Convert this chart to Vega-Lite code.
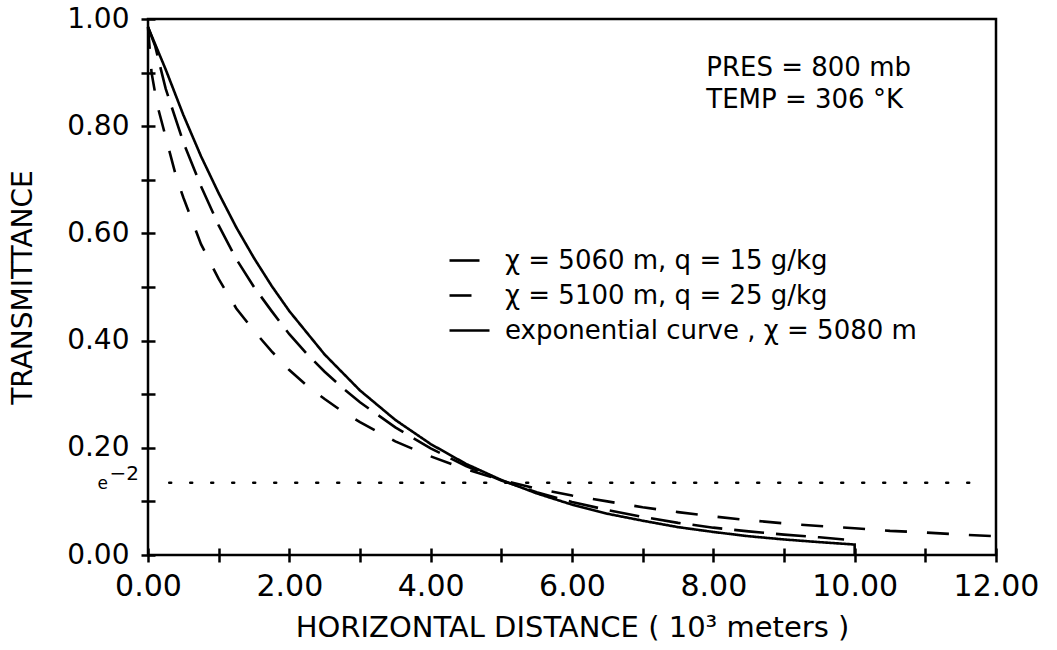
{
  "$schema": "https://vega.github.io/schema/vega-lite/v6.json",
  "width": 848,
  "height": 536,
  "autosize": {"type": "none"},
  "padding": {"left": 148, "top": 19, "right": 61, "bottom": 95},
  "background": "white",
  "config": {
    "view": {"stroke": "black", "strokeWidth": 2.5},
    "font": "DejaVu Sans",
    "axis": {"labelColor": "black", "titleColor": "black", "tickColor": "black", "labelFont": "DejaVu Sans", "titleFont": "DejaVu Sans", "titleFontWeight": "normal", "grid": false}
  },
  "datasets": {
    "curves": [
      {"s": "χ = 5060 m, q = 15 g/kg", "x": 0, "t": 0.985},
      {"s": "χ = 5060 m, q = 15 g/kg", "x": 0.1, "t": 0.95},
      {"s": "χ = 5060 m, q = 15 g/kg", "x": 0.25, "t": 0.87},
      {"s": "χ = 5060 m, q = 15 g/kg", "x": 0.5, "t": 0.77},
      {"s": "χ = 5060 m, q = 15 g/kg", "x": 0.75, "t": 0.688},
      {"s": "χ = 5060 m, q = 15 g/kg", "x": 1.0, "t": 0.615},
      {"s": "χ = 5060 m, q = 15 g/kg", "x": 1.25, "t": 0.552},
      {"s": "χ = 5060 m, q = 15 g/kg", "x": 1.5, "t": 0.5},
      {"s": "χ = 5060 m, q = 15 g/kg", "x": 1.75, "t": 0.455},
      {"s": "χ = 5060 m, q = 15 g/kg", "x": 2.0, "t": 0.412},
      {"s": "χ = 5060 m, q = 15 g/kg", "x": 2.25, "t": 0.375},
      {"s": "χ = 5060 m, q = 15 g/kg", "x": 2.5, "t": 0.342},
      {"s": "χ = 5060 m, q = 15 g/kg", "x": 2.75, "t": 0.312},
      {"s": "χ = 5060 m, q = 15 g/kg", "x": 3.0, "t": 0.285},
      {"s": "χ = 5060 m, q = 15 g/kg", "x": 3.5, "t": 0.238},
      {"s": "χ = 5060 m, q = 15 g/kg", "x": 4.0, "t": 0.199},
      {"s": "χ = 5060 m, q = 15 g/kg", "x": 4.5, "t": 0.166},
      {"s": "χ = 5060 m, q = 15 g/kg", "x": 5.0, "t": 0.139},
      {"s": "χ = 5060 m, q = 15 g/kg", "x": 5.5, "t": 0.117},
      {"s": "χ = 5060 m, q = 15 g/kg", "x": 6.0, "t": 0.099},
      {"s": "χ = 5060 m, q = 15 g/kg", "x": 6.5, "t": 0.084},
      {"s": "χ = 5060 m, q = 15 g/kg", "x": 7.0, "t": 0.071},
      {"s": "χ = 5060 m, q = 15 g/kg", "x": 7.5, "t": 0.06},
      {"s": "χ = 5060 m, q = 15 g/kg", "x": 8.0, "t": 0.051},
      {"s": "χ = 5060 m, q = 15 g/kg", "x": 8.5, "t": 0.044},
      {"s": "χ = 5060 m, q = 15 g/kg", "x": 9.0, "t": 0.038},
      {"s": "χ = 5060 m, q = 15 g/kg", "x": 9.5, "t": 0.033},
      {"s": "χ = 5060 m, q = 15 g/kg", "x": 9.85, "t": 0.029},

      {"s": "χ = 5100 m, q = 25 g/kg", "x": 0, "t": 0.985},
      {"s": "χ = 5100 m, q = 25 g/kg", "x": 0.05, "t": 0.9},
      {"s": "χ = 5100 m, q = 25 g/kg", "x": 0.13, "t": 0.84},
      {"s": "χ = 5100 m, q = 25 g/kg", "x": 0.25, "t": 0.78},
      {"s": "χ = 5100 m, q = 25 g/kg", "x": 0.4, "t": 0.705},
      {"s": "χ = 5100 m, q = 25 g/kg", "x": 0.5, "t": 0.667},
      {"s": "χ = 5100 m, q = 25 g/kg", "x": 0.75, "t": 0.58},
      {"s": "χ = 5100 m, q = 25 g/kg", "x": 1.0, "t": 0.515},
      {"s": "χ = 5100 m, q = 25 g/kg", "x": 1.25, "t": 0.46},
      {"s": "χ = 5100 m, q = 25 g/kg", "x": 1.5, "t": 0.418},
      {"s": "χ = 5100 m, q = 25 g/kg", "x": 1.75, "t": 0.38},
      {"s": "χ = 5100 m, q = 25 g/kg", "x": 2.0, "t": 0.345},
      {"s": "χ = 5100 m, q = 25 g/kg", "x": 2.25, "t": 0.316},
      {"s": "χ = 5100 m, q = 25 g/kg", "x": 2.5, "t": 0.291},
      {"s": "χ = 5100 m, q = 25 g/kg", "x": 2.75, "t": 0.268},
      {"s": "χ = 5100 m, q = 25 g/kg", "x": 3.0, "t": 0.248},
      {"s": "χ = 5100 m, q = 25 g/kg", "x": 3.5, "t": 0.212},
      {"s": "χ = 5100 m, q = 25 g/kg", "x": 4.0, "t": 0.184},
      {"s": "χ = 5100 m, q = 25 g/kg", "x": 4.5, "t": 0.16},
      {"s": "χ = 5100 m, q = 25 g/kg", "x": 5.0, "t": 0.14},
      {"s": "χ = 5100 m, q = 25 g/kg", "x": 5.5, "t": 0.124},
      {"s": "χ = 5100 m, q = 25 g/kg", "x": 6.0, "t": 0.111},
      {"s": "χ = 5100 m, q = 25 g/kg", "x": 6.5, "t": 0.1},
      {"s": "χ = 5100 m, q = 25 g/kg", "x": 7.0, "t": 0.089},
      {"s": "χ = 5100 m, q = 25 g/kg", "x": 7.5, "t": 0.08},
      {"s": "χ = 5100 m, q = 25 g/kg", "x": 8.0, "t": 0.072},
      {"s": "χ = 5100 m, q = 25 g/kg", "x": 8.5, "t": 0.065},
      {"s": "χ = 5100 m, q = 25 g/kg", "x": 9.0, "t": 0.059},
      {"s": "χ = 5100 m, q = 25 g/kg", "x": 9.5, "t": 0.054},
      {"s": "χ = 5100 m, q = 25 g/kg", "x": 10.0, "t": 0.05},
      {"s": "χ = 5100 m, q = 25 g/kg", "x": 10.5, "t": 0.045},
      {"s": "χ = 5100 m, q = 25 g/kg", "x": 11.0, "t": 0.042},
      {"s": "χ = 5100 m, q = 25 g/kg", "x": 11.5, "t": 0.038},
      {"s": "χ = 5100 m, q = 25 g/kg", "x": 12.0, "t": 0.035},

      {"s": "exponential curve , χ = 5080 m", "x": 0, "t": 0.985},
      {"s": "exponential curve , χ = 5080 m", "x": 0.25, "t": 0.906},
      {"s": "exponential curve , χ = 5080 m", "x": 0.5, "t": 0.821},
      {"s": "exponential curve , χ = 5080 m", "x": 0.75, "t": 0.744},
      {"s": "exponential curve , χ = 5080 m", "x": 1.0, "t": 0.675},
      {"s": "exponential curve , χ = 5080 m", "x": 1.25, "t": 0.611},
      {"s": "exponential curve , χ = 5080 m", "x": 1.5, "t": 0.554},
      {"s": "exponential curve , χ = 5080 m", "x": 1.75, "t": 0.502},
      {"s": "exponential curve , χ = 5080 m", "x": 2.0, "t": 0.455},
      {"s": "exponential curve , χ = 5080 m", "x": 2.5, "t": 0.374},
      {"s": "exponential curve , χ = 5080 m", "x": 3.0, "t": 0.307},
      {"s": "exponential curve , χ = 5080 m", "x": 3.5, "t": 0.252},
      {"s": "exponential curve , χ = 5080 m", "x": 4.0, "t": 0.207},
      {"s": "exponential curve , χ = 5080 m", "x": 4.5, "t": 0.17},
      {"s": "exponential curve , χ = 5080 m", "x": 5.0, "t": 0.14},
      {"s": "exponential curve , χ = 5080 m", "x": 5.5, "t": 0.115},
      {"s": "exponential curve , χ = 5080 m", "x": 6.0, "t": 0.094},
      {"s": "exponential curve , χ = 5080 m", "x": 6.5, "t": 0.077},
      {"s": "exponential curve , χ = 5080 m", "x": 7.0, "t": 0.064},
      {"s": "exponential curve , χ = 5080 m", "x": 7.5, "t": 0.052},
      {"s": "exponential curve , χ = 5080 m", "x": 8.0, "t": 0.043},
      {"s": "exponential curve , χ = 5080 m", "x": 8.5, "t": 0.035},
      {"s": "exponential curve , χ = 5080 m", "x": 9.0, "t": 0.029},
      {"s": "exponential curve , χ = 5080 m", "x": 9.5, "t": 0.024},
      {"s": "exponential curve , χ = 5080 m", "x": 10.0, "t": 0.0195},
      {"s": "exponential curve , χ = 5080 m", "x": 10.0, "t": 0.0}
    ],
    "refline": [{"x": 0.3, "x2": 11.7, "t": 0.135}],
    "notes": [
      {"label": "PRES = 800 mb", "x": 7.9, "t": 0.908},
      {"label": "TEMP = 306 °K", "x": 7.9, "t": 0.849}
    ]
  },
  "layer": [
    {
      "data": {"name": "curves"},
      "mark": {"type": "line", "color": "black", "strokeWidth": 2.6, "clip": false},
      "encoding": {
        "x": {
          "field": "x", "type": "quantitative",
          "scale": {"domain": [0, 12], "nice": false, "zero": false},
          "axis": {
            "values": [0, 1, 2, 3, 4, 5, 6, 7, 8, 9, 10, 11, 12],
            "labelExpr": "datum.value % 2 == 0 ? format(datum.value, '.2f') : ''",
            "domain": false, "offset": -7, "tickSize": 14, "tickWidth": 2.5,
            "labelFontSize": 30, "labelPadding": 9, "labelFlush": false,
            "title": "HORIZONTAL DISTANCE ( 10³  meters )", "titleFontSize": 29, "titlePadding": 12
          }
        },
        "y": {
          "field": "t", "type": "quantitative",
          "scale": {"domain": [0, 1], "nice": false},
          "axis": {
            "values": [0, 0.1, 0.2, 0.3, 0.4, 0.5, 0.6, 0.7, 0.8, 0.9, 1.0],
            "labelExpr": "round(datum.value * 10) % 2 == 0 ? format(datum.value, '.2f') : ''",
            "domain": false, "offset": -7, "tickSize": 14, "tickWidth": 2.5,
            "labelFontSize": 28, "labelPadding": 12, "labelFlush": false,
            "title": "TRANSMITTANCE", "titleFontSize": 28, "titlePadding": 29
          }
        },
        "strokeDash": {
          "field": "s", "type": "nominal",
          "scale": {
            "domain": ["χ = 5060 m, q = 15 g/kg", "χ = 5100 m, q = 25 g/kg", "exponential curve , χ = 5080 m"],
            "range": [[30, 12], [22, 20], [1, 0]]
          },
          "legend": {
            "orient": "none", "legendX": 300, "legendY": 220, "title": null,
            "symbolType": "stroke", "symbolSize": 1600, "symbolStrokeWidth": 2.6, "symbolStrokeColor": "black",
            "labelFontSize": 26, "labelColor": "black", "labelFont": "DejaVu Sans", "labelOffset": 14, "rowPadding": -8, "labelLimit": 600
          }
        },
        "order": {"value": null}
      }
    },
    {
      "data": {"name": "refline"},
      "mark": {"type": "rule", "color": "black", "strokeWidth": 2.5, "strokeDash": [2, 19], "strokeCap": "round"},
      "encoding": {
        "x": {"field": "x", "type": "quantitative"},
        "x2": {"field": "x2"},
        "y": {"field": "t", "type": "quantitative"}
      }
    },
    {
      "data": {"name": "notes"},
      "mark": {"type": "text", "align": "left", "baseline": "middle", "fontSize": 26, "font": "DejaVu Sans", "color": "black"},
      "encoding": {
        "x": {"field": "x", "type": "quantitative"},
        "y": {"field": "t", "type": "quantitative"},
        "text": {"field": "label"}
      }
    },
    {
      "data": {"values": [{"label": "e"}]},
      "mark": {"type": "text", "align": "right", "baseline": "middle", "fontSize": 17, "dx": -40, "dy": 1, "clip": false, "color": "black"},
      "encoding": {
        "x": {"datum": 0},
        "y": {"datum": 0.135},
        "text": {"field": "label"}
      }
    },
    {
      "data": {"values": [{"label": "−2"}]},
      "mark": {"type": "text", "align": "right", "baseline": "middle", "fontSize": 20, "dx": -9, "dy": -9, "clip": false, "color": "black"},
      "encoding": {
        "x": {"datum": 0},
        "y": {"datum": 0.135},
        "text": {"field": "label"}
      }
    }
  ]
}
